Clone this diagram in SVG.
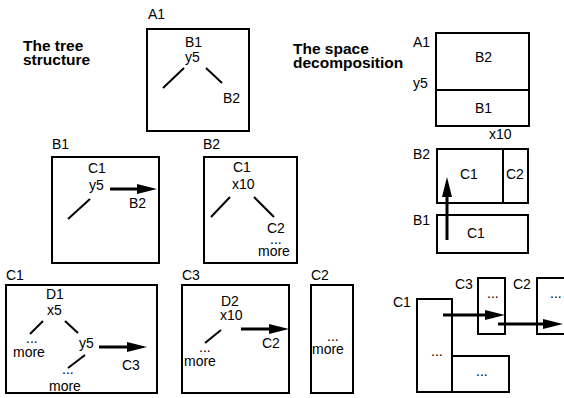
<svg xmlns="http://www.w3.org/2000/svg" width="564" height="398" viewBox="0 0 564 398">
  <style>
    text { font-family: "Liberation Sans", Arial, sans-serif; font-size: 14px; fill: #000; }
    .title { font-weight: bold; font-size: 15.5px; }
    .box { fill: none; stroke: #000; stroke-width: 2; }
    .edge { fill: none; stroke: #000; stroke-width: 2; }
    .ptr { fill: none; stroke: #000; stroke-width: 3; marker-end: url(#head); }
  </style>
  <defs>
    <marker id="head" markerUnits="userSpaceOnUse" markerWidth="20" markerHeight="10" refX="0" refY="5" orient="auto" overflow="visible">
      <path d="M0,0 L20,5 L0,10 Z" fill="#000"/>
    </marker>
  </defs>
  <rect width="564" height="398" fill="#fff"/>

  <!-- headings -->
  <g id="heading-tree">
    <text class="title" x="23" y="51">The tree</text>
    <text class="title" x="23" y="65">structure</text>
  </g>
  <g id="heading-space">
    <text class="title" x="293" y="54">The space</text>
    <text class="title" x="293" y="68">decomposition</text>
  </g>

  <!-- tree nodes -->
  <g id="node-A1">
    <text x="148" y="19">A1</text>
    <rect class="box" x="147" y="29" width="102" height="102"/>
    <text x="185" y="47">B1</text>
    <text x="185" y="62">y5</text>
    <text x="223" y="103">B2</text>
  </g>

  <g id="node-B1">
    <text x="52" y="149">B1</text>
    <rect class="box" x="52" y="157" width="107" height="106"/>
    <text x="88" y="173">C1</text>
    <text x="89" y="190">y5</text>
    <text x="129" y="208">B2</text>
  </g>

  <g id="node-B2">
    <text x="203" y="149">B2</text>
    <rect class="box" x="204" y="157" width="93" height="106"/>
    <text x="233" y="172">C1</text>
    <text x="232" y="189">x10</text>
    <text x="267" y="233">C2</text>
    <text x="270" y="244">...</text>
    <text x="258" y="256">more</text>
  </g>

  <g id="node-C1">
    <text x="6" y="280">C1</text>
    <rect class="box" x="6" y="285" width="151" height="108"/>
    <text x="46" y="299">D1</text>
    <text x="47" y="315">x5</text>
    <text x="26" y="343">...</text>
    <text x="13" y="357">more</text>
    <text x="79" y="348">y5</text>
    <text x="122" y="370">C3</text>
    <text x="62" y="374">...</text>
    <text x="49" y="391">more</text>
  </g>

  <g id="node-C3">
    <text x="182" y="280">C3</text>
    <rect class="box" x="182" y="285" width="107" height="108"/>
    <text x="221" y="306">D2</text>
    <text x="220" y="320">x10</text>
    <text x="262" y="348">C2</text>
    <text x="199" y="352">...</text>
    <text x="184" y="366">more</text>
  </g>

  <g id="node-C2">
    <text x="311" y="280">C2</text>
    <rect class="box" x="311" y="285" width="42" height="108"/>
    <text x="327" y="341">...</text>
    <text x="312" y="354">more</text>
  </g>

  <!-- space decomposition -->
  <g id="space-A1">
    <text x="413" y="47">A1</text>
    <text x="413" y="88">y5</text>
    <rect class="box" x="436" y="33" width="93" height="93"/>
    <line class="edge" x1="436" y1="90" x2="529" y2="90"/>
    <text x="475" y="62">B2</text>
    <text x="475" y="113">B1</text>
    <text x="489" y="139">x10</text>
  </g>

  <g id="space-B">
    <text x="413" y="159">B2</text>
    <rect class="box" x="437" y="149" width="91" height="54"/>
    <line class="edge" x1="503" y1="149" x2="503" y2="203"/>
    <text x="460" y="179">C1</text>
    <text x="506" y="179">C2</text>
    <text x="413" y="225">B1</text>
    <rect class="box" x="437" y="215" width="91" height="38"/>
    <text x="467" y="238">C1</text>
  </g>

  <g id="space-C">
    <text x="393" y="307">C1</text>
    <path class="box" d="M417,299 H452 V392 H417 Z M452,356 H509 V392 H452"/>
    <text x="431" y="356">...</text>
    <text x="476" y="376">...</text>
    <text x="455" y="289">C3</text>
    <rect class="box" x="478" y="278" width="27" height="56"/>
    <text x="487" y="298">...</text>
    <text x="513" y="289">C2</text>
    <rect class="box" x="537" y="278" width="40" height="56"/>
    <text x="550" y="298">...</text>
  </g>

  <!-- connectors -->
  <g id="connectors">
    <!-- tree branches -->
    <line class="edge" x1="184" y1="68" x2="163" y2="88"/>
    <line class="edge" x1="206" y1="68" x2="222" y2="83"/>
    <line class="edge" x1="90" y1="199" x2="68" y2="219"/>
    <line class="edge" x1="230" y1="197" x2="211" y2="217"/>
    <line class="edge" x1="254" y1="197" x2="274" y2="217"/>
    <line class="edge" x1="43" y1="321" x2="30" y2="334"/>
    <line class="edge" x1="65" y1="321" x2="78" y2="333"/>
    <line class="edge" x1="85" y1="355" x2="68" y2="368"/>
    <line class="edge" x1="221" y1="330" x2="205" y2="343"/>
    <!-- neighbour pointers -->
    <line class="ptr" x1="110" y1="189" x2="137" y2="189"/>
    <line class="ptr" x1="99" y1="347" x2="127" y2="347"/>
    <line class="ptr" x1="241" y1="329" x2="269" y2="329"/>
    <line class="ptr" x1="447" y1="240" x2="447" y2="197"/>
    <line class="ptr" x1="443" y1="315" x2="485" y2="315"/>
    <line class="ptr" x1="498" y1="324" x2="543" y2="324"/>
  </g>
</svg>
